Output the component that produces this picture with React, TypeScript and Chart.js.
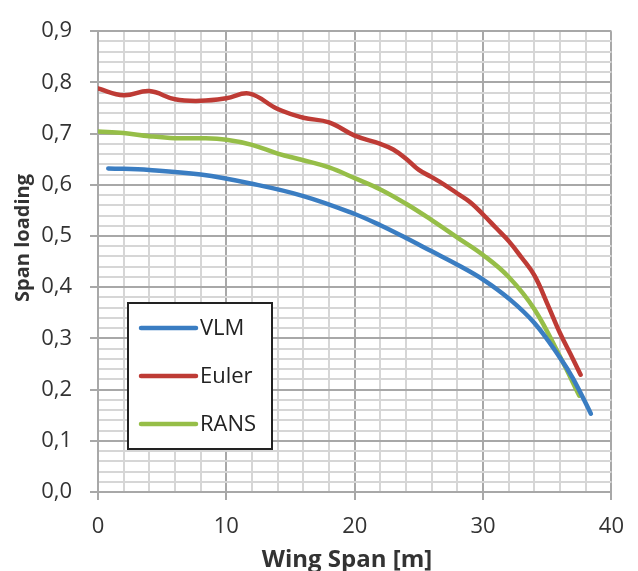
import React, { useEffect, useRef } from "react";
import { Chart, registerables } from "chart.js";

Chart.register(...registerables);

// ---- Data ----
const seriesLabels = ["VLM", "Euler", "RANS"];
const seriesColors = ["#3A7DC2", "#BE3B35", "#96BE48"];

const vlmX = [0.8, 4, 8, 12, 16, 20, 22, 24, 26, 28, 30, 32, 34, 36, 37, 38.4];
const vlmY = [0.632, 0.629, 0.62, 0.602, 0.578, 0.543, 0.521, 0.496, 0.47, 0.444, 0.415, 0.378, 0.33, 0.262, 0.222, 0.153];

const eulerX = [0, 2, 4, 6, 8, 10, 11.8, 14, 16, 18, 20, 22, 23, 24, 25, 26, 27, 28, 29, 30, 31, 32, 33, 34, 35, 36, 37, 37.6];
const eulerY = [0.788, 0.775, 0.783, 0.767, 0.764, 0.769, 0.778, 0.748, 0.731, 0.722, 0.696, 0.68, 0.669, 0.651, 0.629, 0.615, 0.6, 0.583, 0.566, 0.542, 0.516, 0.49, 0.458, 0.423, 0.368, 0.31, 0.26, 0.229];

const ransX = [0, 2, 4, 6, 8, 10, 12, 14, 16, 18, 20, 22, 24, 26, 28, 30, 32, 34, 36, 37.5];
const ransY = [0.704, 0.701, 0.695, 0.691, 0.691, 0.688, 0.678, 0.661, 0.648, 0.634, 0.613, 0.591, 0.563, 0.531, 0.497, 0.463, 0.42, 0.357, 0.264, 0.188];

const xTitle = "Wing Span [m]";
const yTitle = "Span loading";
const xMin = 0, xMax = 40, xMajorStep = 10, xMinorStep = 2;
const yMin = 0, yMax = 0.9, yMajorStep = 0.1, yMinorStep = 0.02;

const FONT = "'Open Sans', sans-serif";
const TEXT_COLOR = "#333333";
const MAJOR_GRID = "#a8a8a8";
const MINOR_GRID = "#d6d6d6";

const toPoints = (xs: number[], ys: number[]) => xs.map((x, i) => ({ x, y: ys[i] }));

const isMajorX = (v: number) => Math.abs(v / xMajorStep - Math.round(v / xMajorStep)) < 1e-6;
const isMajorY = (v: number) => Math.abs(v / yMajorStep - Math.round(v / yMajorStep)) < 1e-6;

const overlayPlugin = {
  id: "overlay",
  afterDatasetsDraw(chart: any) {
    const { ctx, chartArea } = chart;
    ctx.save();
    // Legend box
    const bx = chartArea.left + 30;
    const by = chartArea.bottom - 189;
    const bw = 144;
    const bh = 146;
    ctx.fillStyle = "#ffffff";
    ctx.fillRect(bx, by, bw, bh);
    ctx.strokeStyle = "#222222";
    ctx.lineWidth = 2;
    ctx.strokeRect(bx, by, bw, bh);
    chart.data.datasets.forEach((ds: any, i: number) => {
      const cy = by + 25 + i * 48;
      ctx.strokeStyle = ds.borderColor;
      ctx.lineWidth = 4.5;
      ctx.lineCap = "round";
      ctx.beginPath();
      ctx.moveTo(bx + 13, cy);
      ctx.lineTo(bx + 68, cy);
      ctx.stroke();
      ctx.fillStyle = "#222222";
      ctx.font = `22px ${FONT}`;
      ctx.textAlign = "left";
      ctx.textBaseline = "middle";
      ctx.fillText(ds.label, bx + 72, cy + 1);
    });
    // Axis titles
    ctx.fillStyle = TEXT_COLOR;
    ctx.font = `bold 24px ${FONT}`;
    ctx.textAlign = "center";
    ctx.textBaseline = "alphabetic";
    ctx.fillText(xTitle, 347, 567);
    ctx.save();
    ctx.font = `bold 20px ${FONT}`;
    ctx.translate(29, 238);
    ctx.rotate(-Math.PI / 2);
    ctx.fillText(yTitle, 0, 0);
    ctx.restore();
    ctx.restore();
  },
};

export default function App() {
  const canvasRef = useRef<HTMLCanvasElement | null>(null);

  useEffect(() => {
    if (!canvasRef.current) return;
    const datasets = [
      toPoints(vlmX, vlmY),
      toPoints(eulerX, eulerY),
      toPoints(ransX, ransY),
    ].map((pts, i) => ({
      label: seriesLabels[i],
      data: pts,
      borderColor: seriesColors[i],
      backgroundColor: seriesColors[i],
      borderWidth: 4.5,
      pointRadius: 0,
      pointHoverRadius: 0,
      fill: false,
      tension: 0.4,
      borderCapStyle: "round" as const,
      borderJoinStyle: "round" as const,
    }));

    const chart = new Chart(canvasRef.current, {
      type: "line",
      data: { datasets },
      options: {
        animation: false,
        responsive: true,
        maintainAspectRatio: false,
        layout: { padding: { left: 0, top: 19.5, right: 26, bottom: 0 } },
        plugins: {
          legend: { display: false },
          tooltip: { enabled: false },
        },
        scales: {
          x: {
            type: "linear",
            min: xMin,
            max: xMax,
            afterFit: (scale: any) => {
              scale.height = 79;
            },
            ticks: {
              stepSize: xMinorStep,
              autoSkip: false,
              maxRotation: 0,
              padding: 14,
              color: TEXT_COLOR,
              font: { family: FONT, size: 22 },
              callback: (v: any) => (isMajorX(Number(v)) ? String(v) : ""),
            },
            grid: {
              color: (c: any) => (c.tick && isMajorX(c.tick.value) ? MAJOR_GRID : MINOR_GRID),
              lineWidth: 2,
              drawTicks: true,
              tickLength: 8,
              tickWidth: 2,
              tickColor: (c: any) => (c.tick && isMajorX(c.tick.value) ? MAJOR_GRID : "rgba(0,0,0,0)"),
            },
            border: { color: MAJOR_GRID, width: 2 },
          },
          y: {
            type: "linear",
            min: yMin,
            max: yMax,
            afterFit: (scale: any) => {
              scale.width = 98;
            },
            ticks: {
              stepSize: yMinorStep,
              autoSkip: false,
              padding: 18,
              color: TEXT_COLOR,
              font: { family: FONT, size: 22 },
              callback: (v: any) => (isMajorY(Number(v)) ? Number(v).toFixed(1).replace(".", ",") : ""),
            },
            grid: {
              color: (c: any) => (c.tick && isMajorY(c.tick.value) ? MAJOR_GRID : MINOR_GRID),
              lineWidth: 2,
              drawTicks: true,
              tickLength: 8,
              tickWidth: 2,
              tickColor: (c: any) => (c.tick && isMajorY(c.tick.value) ? MAJOR_GRID : "rgba(0,0,0,0)"),
            },
            border: { color: MAJOR_GRID, width: 2 },
          },
        },
      },
      plugins: [overlayPlugin],
    });
    return () => chart.destroy();
  }, []);

  return (
    <div style={{ position: "absolute", left: 0, top: 0, width: 638, height: 571, background: "#ffffff" }}>
      <canvas ref={canvasRef} />
    </div>
  );
}
